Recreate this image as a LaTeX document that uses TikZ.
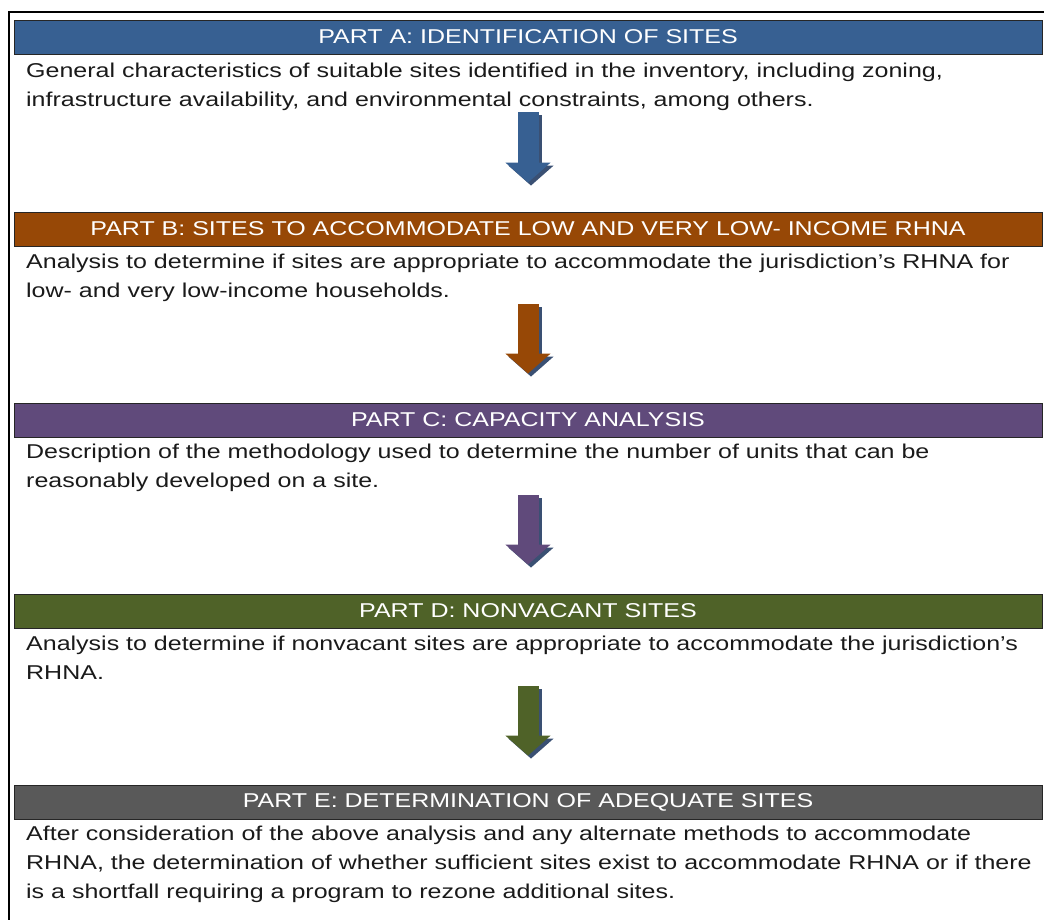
\documentclass[tikz,border=0pt]{standalone}
\usepackage{fontspec}
\setmainfont[FakeStretch=1.25]{Liberation Sans}
\usetikzlibrary{arrows.meta}
\definecolor{partA}{HTML}{376092}
\definecolor{partB}{HTML}{974806}
\definecolor{partC}{HTML}{604A7B}
\definecolor{partD}{HTML}{4F6228}
\definecolor{partE}{HTML}{595959}
\definecolor{arrowshade}{HTML}{3A5073}
\definecolor{bodytext}{HTML}{1A1A1A}

\begin{document}
\begin{tikzpicture}[x=1pt,y=-1pt,
  bar/.style={draw=black!85,line width=0.8pt,minimum width=1028pt,minimum height=34pt,inner sep=0pt,text=white,font=\fontsize{20}{24}\selectfont},
  body/.style={anchor=north west,inner sep=0pt,align=left,text=bodytext,font=\fontsize{20}{29}\selectfont},
  bigarrow/.style={line width=21pt,-{Triangle[width=44pt,length=20pt]}}]
\def\shadowoff{3pt}
\useasboundingbox (0,0) rectangle (1044,920);
\draw[line width=2.5pt] (9,921) -- (9,12) -- (1045,12);
\node[bar,fill=partA] (hA) at (528,37) {\raisebox{-1.5pt}{PART A: IDENTIFICATION OF SITES}};
\node[bar,fill=partB] (hB) at (528,229) {\raisebox{-1.5pt}{PART B: SITES TO ACCOMMODATE LOW AND VERY LOW- INCOME RHNA}};
\node[bar,fill=partC] (hC) at (528,420) {\raisebox{-1.5pt}{PART C: CAPACITY ANALYSIS}};
\node[bar,fill=partD] (hD) at (528,611) {\raisebox{-1.5pt}{PART D: NONVACANT SITES}};
\node[bar,fill=partE] (hE) at (528,802) {\raisebox{-1.5pt}{PART E: DETERMINATION OF ADEQUATE SITES}};
\node[body] (tA) at (26,63) {General characteristics of suitable sites identified in the inventory, including zoning,\\infrastructure availability, and environmental constraints, among others.};
\node[body] (tB) at (26,254) {Analysis to determine if sites are appropriate to accommodate the jurisdiction’s RHNA for\\low- and very low-income households.};
\node[body] (tC) at (26,444) {Description of the methodology used to determine the number of units that can be\\reasonably developed on a site.};
\node[body] (tD) at (26,636) {Analysis to determine if nonvacant sites are appropriate to accommodate the jurisdiction’s\\RHNA.};
\node[body] (tE) at (26,826) {After consideration of the above analysis and any alternate methods to accommodate\\RHNA, the determination of whether sufficient sites exist to accommodate RHNA or if there\\is a shortfall requiring a program to rezone additional sites.};
\draw[bigarrow,arrowshade] ([xshift=\shadowoff,yshift=-58pt-\shadowoff]hA.south) -- ([xshift=\shadowoff,yshift=29pt-\shadowoff]hB.north);  % shadow
\draw[bigarrow,partA] ([yshift=-58pt]hA.south) -- ([yshift=29pt]hB.north);
\draw[bigarrow,arrowshade] ([xshift=\shadowoff,yshift=-58pt-\shadowoff]hB.south) -- ([xshift=\shadowoff,yshift=29pt-\shadowoff]hC.north);  % shadow
\draw[bigarrow,partB] ([yshift=-58pt]hB.south) -- ([yshift=29pt]hC.north);
\draw[bigarrow,arrowshade] ([xshift=\shadowoff,yshift=-58pt-\shadowoff]hC.south) -- ([xshift=\shadowoff,yshift=29pt-\shadowoff]hD.north);  % shadow
\draw[bigarrow,partC] ([yshift=-58pt]hC.south) -- ([yshift=29pt]hD.north);
\draw[bigarrow,arrowshade] ([xshift=\shadowoff,yshift=-58pt-\shadowoff]hD.south) -- ([xshift=\shadowoff,yshift=29pt-\shadowoff]hE.north);  % shadow
\draw[bigarrow,partD] ([yshift=-58pt]hD.south) -- ([yshift=29pt]hE.north);
\end{tikzpicture}
\end{document}
